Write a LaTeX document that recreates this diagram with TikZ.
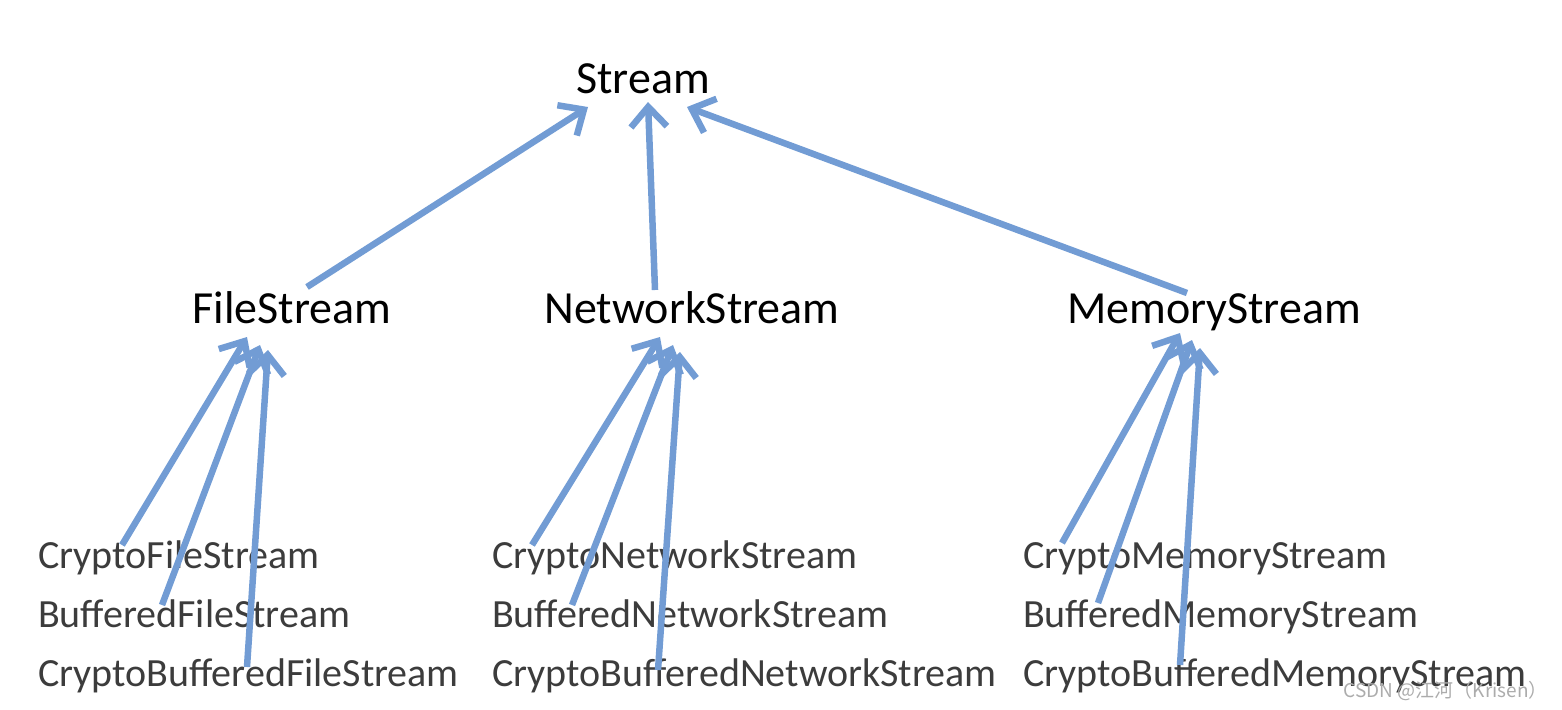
\documentclass[tikz,border=0pt]{standalone}
\usepackage{fontspec}
\setmainfont{Carlito}
\newfontfamily\cjkfont{Noto Sans CJK SC}
\usetikzlibrary{arrows.meta,calc}
\definecolor{arrowblue}{RGB}{114,156,212}
\definecolor{subgray}{RGB}{60,60,60}

\begin{document}
\begin{tikzpicture}[x=1pt,y=-1pt,
    top/.style={anchor=base,inner sep=0pt,font=\fontsize{46}{54}\selectfont},
    sub/.style={anchor=base west,inner sep=0pt,text=subgray,font=\fontsize{40}{48}\selectfont},
    isa/.style={draw=arrowblue,line width=6.5pt,line join=round,
      -{Straight Barb[length=20pt,width=36pt]}}]
  \useasboundingbox (0,0) rectangle (1562,709);
  %Base class
  \node[top] (stream) at (643,93) {Stream};
  %Stream classes
  \node[top] (file) at (292,323) {FileStream};
  \node[top] (network) at (692,323) {NetworkStream};
  \node[top] (memory) at (1214,323) {MemoryStream};
  %Extensions
  \node[sub] (cfs) at (38,568) {CryptoFileStream};
  \node[sub] (bfs) at (38,627) {BufferedFileStream};
  \node[sub] (cbfs) at (38,686) {CryptoBufferedFileStream};
  \node[sub] (cns) at (492,568) {CryptoNetworkStream};
  \node[sub] (bns) at (492,627) {BufferedNetworkStream};
  \node[sub] (cbns) at (492,686) {CryptoBufferedNetworkStream};
  \node[sub] (cms) at (1023,568) {CryptoMemoryStream};
  \node[sub] (bms) at (1023,627) {BufferedMemoryStream};
  \node[sub] (cbms) at (1023,686) {CryptoBufferedMemoryStream};
  %Inheritance arrows to Stream
  \draw[isa] ($(file.base)+(15,-36)$) -- ($(stream.base)+(-55,14)$);
  \draw[isa] ($(network.base)+(-37,-33)$) -- ($(stream.base)+(5,9)$);
  \draw[isa] ($(memory.base)+(-27,-30)$) -- ($(stream.base)+(44,14)$);
  %Inheritance arrows from the extensions
  \foreach \src/\sx/\sy/\dst/\tx/\ty in {
      cfs/84/-23/file/-45/14, bfs/124/-22/file/-32/22, cbfs/209/-19/file/-24/27,
      cns/40/-23/network/-32/14, bns/80/-22/network/-19/22, cbns/166/-16/network/-12/29,
      cms/39/-25/memory/-34/10, bms/75/-24/memory/-22/17, cbms/157/-21/memory/-14/25}
    \draw[isa] ($(\src.base west)+(\sx,\sy)$) -- ($(\dst.base)+(\tx,\ty)$);
  %Watermark
  \node[anchor=base east,inner sep=0pt,text=gray!65,font=\cjkfont\fontsize{19}{22}\selectfont] (mark) at (1548,697) {CSDN @江河（Krisen）};
\end{tikzpicture}
\end{document}
